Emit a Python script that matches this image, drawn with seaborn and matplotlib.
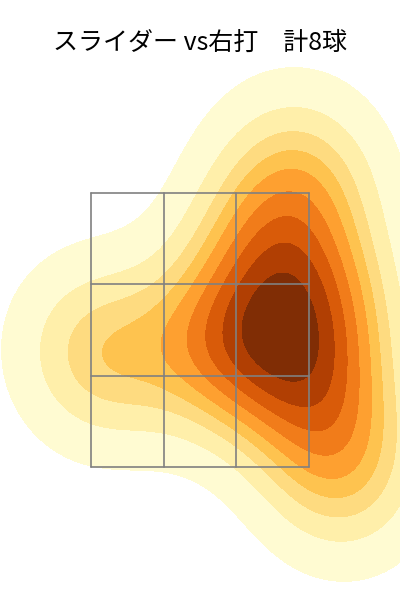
import matplotlib
matplotlib.use("Agg")
import matplotlib.pyplot as plt
import seaborn as sns
import pandas as pd

# -----------------------------
# データ (投球位置, ft)
# -----------------------------
plate_x = [-0.76, 0.08, 0.50, 0.91, 0.53, 0.91, 0.76, 1.07]
plate_z = [2.32, 2.39, 3.05, 2.72, 2.35, 2.06, 3.60, 1.48]
title = "スライダー vs右打　計8球"

# ストライクゾーン
zone_x = [-0.83, 0.83]
zone_z = [1.5, 3.5]

df = pd.DataFrame({"plate_x": plate_x, "plate_z": plate_z})

sns.set_style("white")
plt.rcParams["font.family"] = ["Noto Sans CJK JP", "DejaVu Sans"]

fig = plt.figure(figsize=(4, 6), dpi=100)
ax = fig.add_axes([0, 0, 1, 1])

sns.kdeplot(data=df, x="plate_x", y="plate_z", fill=True, cmap="YlOrBr", ax=ax)

# ゾーンの枠 (3x3)
w = (zone_x[1] - zone_x[0]) / 3
h = (zone_z[1] - zone_z[0]) / 3
for i in range(4):
    ax.plot([zone_x[0] + i * w] * 2, zone_z, color="gray", lw=1.2)
    ax.plot(zone_x, [zone_z[0] + i * h] * 2, color="gray", lw=1.2)

ax.set_xlim(-1.523, 1.523)
ax.set_ylim(0.529, 4.909)
ax.axis("off")

fig.text(0.5, 1 - 43 / 600, title, ha="center", va="center", fontsize=18, color="black")

fig.savefig("out.png", dpi=100)
